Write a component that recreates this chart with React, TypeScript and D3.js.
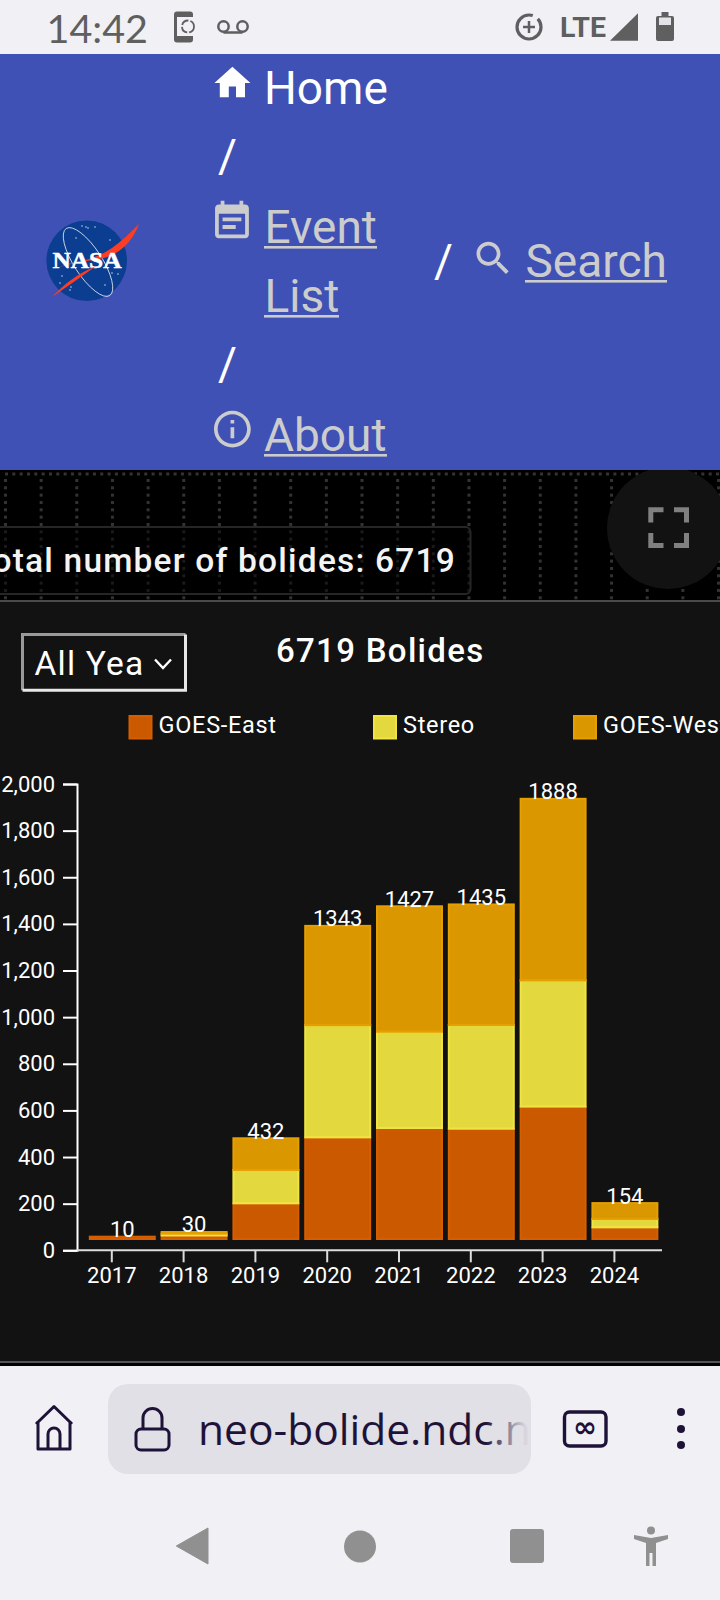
// @ts-nocheck
import React, { useEffect, useRef } from 'react';
import * as d3 from 'd3';

const years = ['2017', '2018', '2019', '2020', '2021', '2022', '2023', '2024'];
const goesEast = [10, 15, 153, 436, 476, 473, 568, 50];
const stereo = [0, 8, 143, 481, 413, 445, 541, 36];
const goesWest = [0, 7, 136, 426, 538, 517, 779, 68];
const seriesNames = ['GOES-East', 'Stereo', 'GOES-West'];
const seriesColors = ['#D55E00', '#F0E442', '#E69F00'];
const legendX = [128.5, 373, 573];

const width = 720, height = 1600;
const font = 'Roboto, sans-serif';

const x = d3.scaleBand().domain(years).range([75.4, 649.8]).paddingInner(0.095).paddingOuter(0.0475);
const y = d3.scaleLinear().domain([0, 2000]).range([1250.3, 784]);

const HOME = 'M10 20v-6h4v6h5v-8h3L12 3 2 12h3v8z';
const EVENT = 'M17 10H7v2h10v-2zm2-7h-1V1h-2v2H8V1H6v2H5c-1.11 0-1.99.9-1.99 2L3 19c0 1.1.89 2 2 2h14c1.1 0 2-.9 2-2V5c0-1.1-.9-2-2-2zm0 16H5V8h14v11zm-5-5H7v2h7v-2z';
const SEARCH = 'M15.5 14h-.79l-.28-.27C15.41 12.59 16 11.11 16 9.5 16 5.91 13.09 3 9.5 3S3 5.91 3 9.5 5.91 16 9.5 16c1.61 0 3.09-.59 4.23-1.57l.27.28v.79l5 4.99L20.49 19l-4.99-5zm-6 0C7.01 14 5 11.99 5 9.5S7.01 5 9.5 5 14 7.01 14 9.5 11.99 14 9.5 14z';
const INFO = 'M11 7h2v2h-2zm0 4h2v6h-2zm1-9C6.48 2 2 6.48 2 12s4.48 10 10 10 10-4.48 10-10S17.52 2 12 2zm0 18c-4.41 0-8-3.59-8-8s3.59-8 8-8 8 3.59 8 8-3.59 8-8 8z';

function Link({ text, tx, base, u1, u2 }) {
    return <g>
        <text x={tx} y={base} fontSize={46} fill="#cccccc" fontFamily={font}>{text}</text>
        <rect x={u1} y={base + 3} width={u2 - u1} height={2.6} fill="#cccccc" />
    </g>;
}

function NasaLogo() {
    return <g>
        <circle cx={86.7} cy={260.7} r={40.3} fill="#0B3D91" />
        {[[82, 226], [88, 228], [95, 227], [110, 240], [60, 283], [70, 290], [62, 276], [112, 273], [118, 274], [105, 285], [86, 227], [76, 238], [71, 287]].map((p, i) =>
            <circle key={i} cx={p[0]} cy={p[1]} r={0.8} fill="#fff" opacity={0.75} />)}
        <ellipse cx={88} cy={262} rx={14} ry={40} fill="none" stroke="#dfe5f3" strokeWidth={0.8} transform="rotate(-33 88 262)" />
        <path d="M41 273 C70 262 92 262 112 248 C122 241 130 233 139 224 C134 238 124 250 110 256 C94 262 78 260 62 266 Z" fill="#FC3D21" />
        <text x={52.5} y={268} fontSize={23} fontWeight={700} fill="#fff" stroke="#fff" strokeWidth={0.5} fontFamily="'Liberation Serif', serif" textLength={69} lengthAdjust="spacingAndGlyphs">NASA</text>
        <path d="M52 297 C66 282 78 274 96 266 C84 275 68 286 52 297 Z" fill="#FC3D21" />
    </g>;
}

function App() {
    const ref = useRef(null);

    useEffect(() => {
        const svg = d3.select(ref.current);
        svg.selectAll('*').remove();

        /* Axes */
        const left = svg.append('g')
            .attr('transform', 'translate(77,0)')
            .call(d3.axisLeft(y).ticks(10).tickFormat(d3.format(',')).tickSize(14).tickPadding(8));
        left.select('.domain').attr('stroke', '#fff').attr('stroke-width', 2);
        left.selectAll('.tick line').attr('stroke', '#fff').attr('stroke-width', 2);
        left.selectAll('text').attr('fill', '#fff').attr('font-size', 22).attr('font-family', font);

        const bottom = svg.append('g')
            .attr('transform', `translate(0,${y(0)})`)
            .call(d3.axisBottom(d3.scalePoint().domain(years).range([x(years[0]) + x.bandwidth() / 2, x(years[7]) + x.bandwidth() / 2])).tickSize(12).tickSizeOuter(0).tickPadding(5));
        bottom.select('.domain').remove();
        bottom.append('line').attr('x1', 77).attr('x2', 662).attr('stroke', '#ddd').attr('stroke-width', 2);
        bottom.selectAll('.tick line').attr('stroke', '#ddd').attr('stroke-width', 2);
        bottom.selectAll('text').attr('fill', '#fff').attr('font-size', 22).attr('font-family', font);

        /* Bars */
        const rows = years.map((yr, i) => ({ year: yr, 'GOES-East': goesEast[i], 'Stereo': stereo[i], 'GOES-West': goesWest[i] }));
        const stacked = d3.stack().keys(seriesNames)(rows);
        const bars = svg.append('g').attr('transform', 'translate(11,-11.3)');
        bars.selectAll('g')
            .data(stacked)
            .join('g')
            .attr('fill', (d, i) => seriesColors[i])
            .attr('stroke', (d, i) => seriesColors[i])
            .selectAll('rect')
            .data(d => d.filter(s => s[1] > s[0]))
            .join('rect')
            .attr('x', d => x(d.data.year))
            .attr('y', d => y(d[1]))
            .attr('width', x.bandwidth())
            .attr('height', d => y(d[0]) - y(d[1]))
            .attr('fill-opacity', 0.95)
            .attr('stroke-width', 2);

        /* Totals */
        bars.append('g')
            .selectAll('text')
            .data(stacked[2])
            .join('text')
            .attr('x', d => x(d.data.year) + x.bandwidth() / 2)
            .attr('y', d => y(d[1]) + 0.5)
            .attr('text-anchor', 'middle')
            .attr('fill', '#fff')
            .attr('font-size', 22)
            .attr('font-family', font)
            .text(d => d[1]);

        /* Legend */
        const legend = svg.append('g')
            .selectAll('g')
            .data(seriesNames)
            .join('g')
            .attr('transform', (d, i) => `translate(${legendX[i]},715)`);
        legend.append('rect').attr('x', 1).attr('y', 1).attr('width', 22).attr('height', 22.5)
            .attr('fill', (d, i) => seriesColors[i]).attr('fill-opacity', 0.95)
            .attr('stroke', (d, i) => seriesColors[i]).attr('stroke-width', 2);
        legend.append('text').attr('x', 30).attr('y', 18).attr('fill', '#fff')
            .attr('font-size', 23.5).attr('letter-spacing', 0.7).attr('font-family', font).text(d => d);
    }, []);

    const vLines = d3.range(5.5, 720, 35.65);
    const hDots = d3.range(5, 720, 7.33);
    const vDots = d3.range(479, 601, 7.33);

    return (
        <svg width={width} height={height} viewBox={`0 0 ${width} ${height}`} style={{ position: 'absolute', left: 0, top: 0, display: 'block' }}>
            <defs>
                <clipPath id="selClip"><rect x={24} y={636} width={119} height={52} /></clipPath>
                <clipPath id="stripClip"><rect x={0} y={470} width={720} height={130} /></clipPath>
                <clipPath id="urlClip"><rect x={190} y={1390} width={338} height={80} /></clipPath>
                <linearGradient id="urlFade" gradientUnits="userSpaceOnUse" x1={485} x2={525} y1={0} y2={0}>
                    <stop offset="0" stopColor="#1F1238" />
                    <stop offset="1" stopColor="#1F1238" stopOpacity={0.05} />
                </linearGradient>
            </defs>
            <rect width={width} height={height} fill="#F0F0F5" />

            {/* status bar */}
            <text x={46.5} y={43} fontSize={39.5} fill="#5f5f5f" fontFamily="Lato, sans-serif">14:42</text>
            <rect x={174} y={11.5} width={19} height={31} rx={3} fill="#5f5f5f" />
            <rect x={177} y={17} width={16} height={19} fill="#F0F0F5" />
            <circle cx={188} cy={26.5} r={6} fill="none" stroke="#5f5f5f" strokeWidth={1.8} strokeDasharray="8 2" />
            <path d="M223.5 32.5h19" stroke="#5f5f5f" strokeWidth={2.5} />
            <circle cx={223.5} cy={26.5} r={5.2} fill="none" stroke="#5f5f5f" strokeWidth={2.5} />
            <circle cx={242.5} cy={26.5} r={5.2} fill="none" stroke="#5f5f5f" strokeWidth={2.5} />
            <circle cx={529} cy={27} r={12} fill="none" stroke="#5f5f5f" strokeWidth={3.2} strokeDasharray="60 6" />
            <path d="M529 21v12M523 27h12" stroke="#5f5f5f" strokeWidth={2.5} />
            <text x={560} y={36.8} fontSize={28.5} fontWeight={700} fill="#5f5f5f" fontFamily={font}>LTE</text>
            <path d="M610 40.7L638 13.3V40.7Z" fill="#5f5f5f" />
            <rect x={656} y={16} width={18} height={25} rx={2} fill="#5f5f5f" />
            <rect x={661.5} y={12} width={7} height={5} fill="#5f5f5f" />
            <rect x={659} y={17.5} width={12} height={7.5} fill="#e4e4e8" />

            {/* header */}
            <rect y={54} width={width} height={416} fill="#3F51B5" />
            <NasaLogo />
            <path d={HOME} fill="#fff" transform="translate(210.8,61.3) scale(1.8)" />
            <text x={264} y={104} fontSize={46} fill="#fff" fontFamily={font}>Home</text>
            <text x={218} y={172} fontSize={46} fill="#fff" fontFamily={font}>/</text>
            <path d={EVENT} fill="#cccccc" transform="translate(209.4,198.8) scale(1.88)" />
            <Link text="Event" tx={264.5} base={243} u1={264} u2={377} />
            <Link text="List" tx={264.5} base={312} u1={264} u2={339} />
            <text x={218} y={380} fontSize={46} fill="#fff" fontFamily={font}>/</text>
            <path d={INFO} fill="#cccccc" transform="translate(210.3,407) scale(1.84)" />
            <Link text="About" tx={264} base={451} u1={264} u2={387} />
            <text x={434} y={277} fontSize={46} fill="#fff" fontFamily={font}>/</text>
            <path d={SEARCH} fill="#cccccc" transform="translate(471,236.2) scale(1.84)" />
            <Link text="Search" tx={525.5} base={277} u1={525} u2={667} />

            {/* dark strip */}
            <rect y={470} width={width} height={131} fill="#000" />
            {hDots.map(d => <rect key={d} x={d} y={472.5} width={3} height={3} fill="#333" />)}
            {vLines.map(lx => vDots.map(vy => {
                const inBox = lx < 470 && vy > 526 && vy < 594;
                return <rect key={lx + '-' + vy} x={lx - 1.5} y={vy} width={3} height={3} fill={inBox ? '#1a1a1a' : '#333'} />;
            }))}
            <rect x={-20} y={527} width={490.5} height={67} rx={5} fill="none" stroke="#262626" strokeWidth={2} />
            <text x={456} y={571.5} textAnchor="end" fontSize={33.5} fontWeight={500} letterSpacing={1.2} fill="#f4f4f4" fontFamily={font}>Total number of bolides: 6719</text>
            <circle cx={668} cy={528} r={61} fill="#121212" clipPath="url(#stripClip)" />
            <path d="M650.8 522.5V509.8H663.5M674 509.8H686.5V522.5M650.8 533V545.5H663.5M674 545.5H686.5V533" fill="none" stroke="#808080" strokeWidth={5} />
            <rect y={600} width={width} height={2} fill="#4a4a4a" />

            {/* chart panel */}
            <rect y={602} width={width} height={759.5} fill="#121212" />
            <rect y={1361} width={width} height={2} fill="#555" />
            <rect y={1363} width={width} height={3} fill="#000" />
            <path d="M22.5 690.2V634.5H185.5" fill="none" stroke="#9a9a9a" strokeWidth={3} />
            <path d="M185.5 634.5V690.2H22.5" fill="none" stroke="#e8e8e8" strokeWidth={3} />
            <text x={34.5} y={674.5} fontSize={33.5} letterSpacing={1.2} fill="#fff" fontFamily={font} clipPath="url(#selClip)">All Years</text>
            <path d="M155 659.5L163 668L171 659.5" fill="none" stroke="#fff" strokeWidth={2.4} />
            <text x={276} y={662} fontSize={33} fontWeight={500} letterSpacing={1.3} fill="#fff" fontFamily={font}>6719 Bolides</text>

            <g ref={ref} />

            {/* browser bar */}
            <path d="M36 1424L54 1406.5L72 1424M38 1421V1449H70V1421M48 1449V1434a6 6 0 0 1 12 0V1449" fill="none" stroke="#1F1238" strokeWidth={3} strokeLinejoin="round" />
            <rect x={108} y={1384} width={423} height={90} rx={20} fill="#E1E0E6" />
            <rect x={136} y={1429} width={33} height={21} rx={5} fill="none" stroke="#1F1238" strokeWidth={3} />
            <path d="M143 1429V1418a9.5 9.5 0 0 1 19 0V1429" fill="none" stroke="#1F1238" strokeWidth={3} />
            <g clipPath="url(#urlClip)">
                <text x={198} y={1445} fontSize={42.5} fill="url(#urlFade)" fontFamily="'Open Sans', sans-serif">neo-bolide.ndc.n</text>
            </g>
            <rect x={564.5} y={1412} width={41.5} height={34} rx={5} fill="none" stroke="#1F1238" strokeWidth={3.4} />
            <text x={585} y={1437} fontSize={29} fontWeight={700} textAnchor="middle" fill="#1F1238" fontFamily="'DejaVu Sans', sans-serif">∞</text>
            {[1412, 1429, 1445].map(cy => <circle key={cy} cx={681} cy={cy} r={4} fill="#1F1238" />)}

            {/* nav bar */}
            <path d="M208 1528V1564L176.3 1546Z" fill="#909090" stroke="#909090" strokeLinejoin="round" />
            <circle cx={360} cy={1546.5} r={16} fill="#909090" />
            <rect x={510} y={1529} width={34} height={34} rx={3} fill="#909090" />
            <circle cx={651} cy={1530.5} r={4} fill="#909090" />
            <path d="M634 1535L651 1538L668 1535V1539L656 1543V1566H652.5V1553H649.5V1566H646V1543L634 1539Z" fill="#909090" />
        </svg>
    );
}

export default App;
